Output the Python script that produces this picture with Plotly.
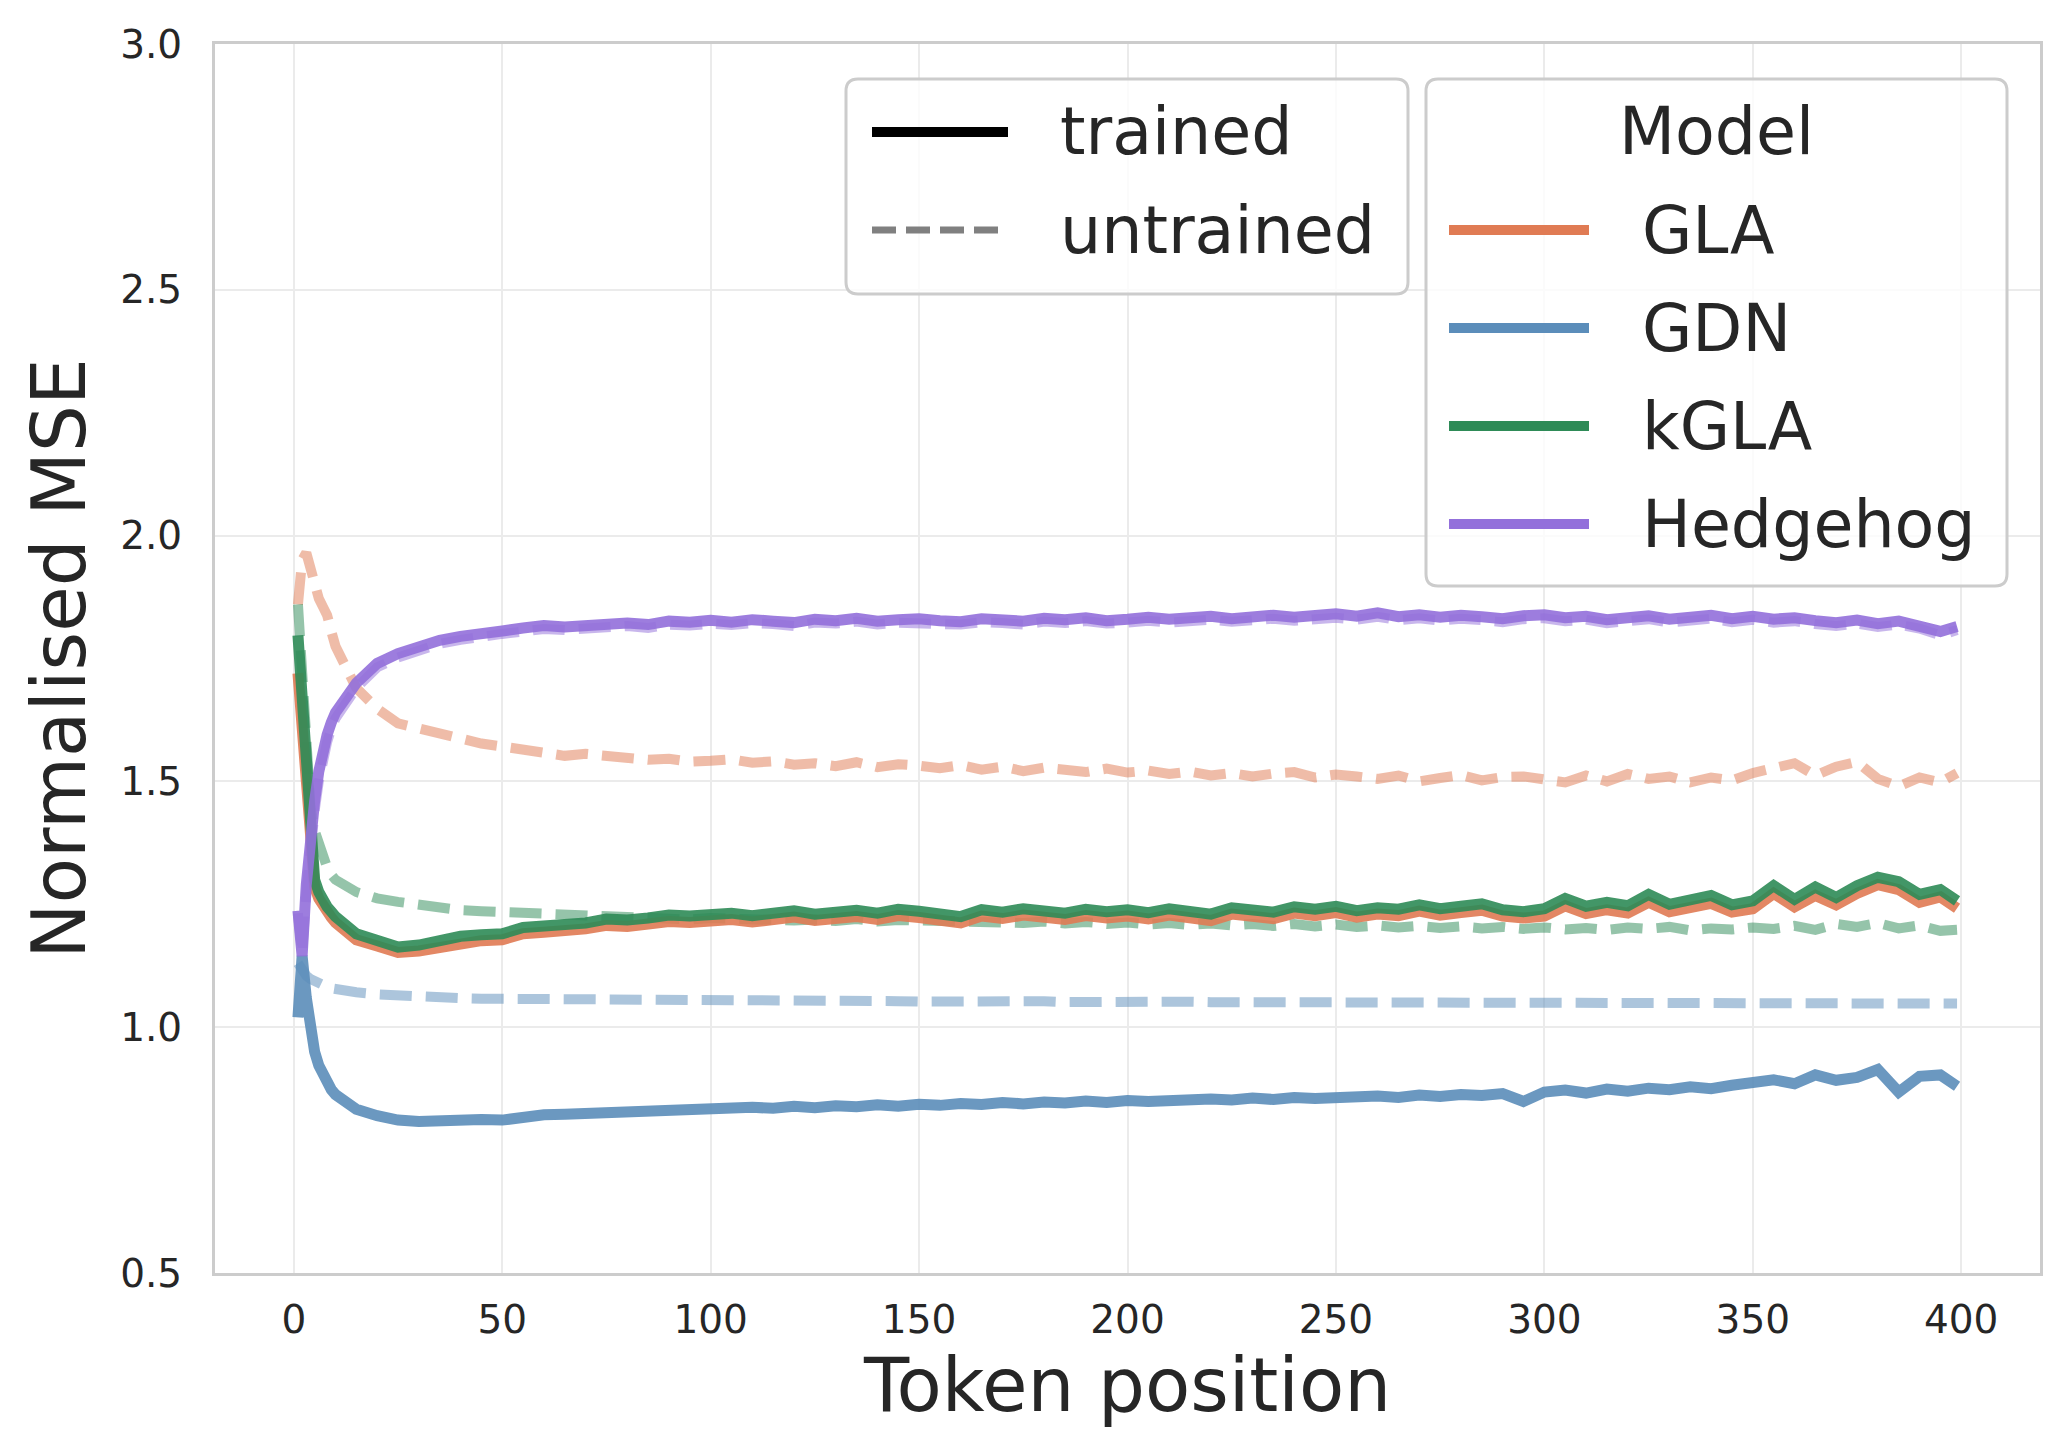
import plotly.graph_objects as go

# ---------------- data ----------------
token_pos = list(range(1, 11)) + list(range(15, 400, 5)) + [399]

models = ["GLA", "GDN", "kGLA", "Hedgehog"]
model_colors = ["#E07B54", "#5B8DBA", "#2E8B57", "#9370DB"]
style_labels = ["trained", "untrained"]
legend_title = "Model"
x_title = "Token position"
y_title = "Normalised MSE"
x_ticks = [0, 50, 100, 150, 200, 250, 300, 350, 400]
y_ticks = [0.5, 1.0, 1.5, 2.0, 2.5, 3.0]

gla_trained = [
    1.72, 1.60, 1.49, 1.39, 1.285, 1.262, 1.245, 1.233, 1.223, 1.213,
    1.178, 1.165, 1.152, 1.155, 1.163, 1.172, 1.176, 1.178,
    1.19, 1.193, 1.195, 1.2, 1.207, 1.205, 1.21, 1.215, 1.213, 1.216,
    1.219, 1.214, 1.221, 1.224, 1.217, 1.222, 1.225, 1.219, 1.227, 1.223,
    1.219, 1.212, 1.226, 1.221, 1.228, 1.223, 1.219, 1.227, 1.222, 1.226,
    1.22, 1.228, 1.224, 1.217, 1.23, 1.226, 1.221, 1.232, 1.227, 1.233,
    1.224, 1.23, 1.227, 1.236, 1.228, 1.233, 1.238, 1.226, 1.222, 1.226,
    1.247, 1.231, 1.239, 1.232, 1.254, 1.235, 1.242, 1.252, 1.234, 1.241,
    1.272, 1.245, 1.268, 1.249, 1.272, 1.29, 1.28, 1.254, 1.265,
    1.242,
]
gdn_trained = [
    1.02, 1.145, 1.06, 0.99, 0.95, 0.922, 0.902, 0.886, 0.873, 0.863,
    0.833, 0.82, 0.811, 0.808, 0.81, 0.813, 0.812, 0.811,
    0.818, 0.822, 0.823, 0.825, 0.824, 0.828, 0.829, 0.833, 0.831, 0.835,
    0.834, 0.837, 0.835, 0.839, 0.836, 0.84, 0.838, 0.842, 0.839, 0.843,
    0.841, 0.845, 0.843, 0.847, 0.844, 0.848, 0.846, 0.85, 0.847, 0.851,
    0.849, 0.852, 0.85, 0.854, 0.852, 0.856, 0.853, 0.857, 0.855, 0.858,
    0.856, 0.86, 0.857, 0.862, 0.859, 0.863, 0.861, 0.865, 0.849, 0.868,
    0.872, 0.866, 0.874, 0.87, 0.876, 0.873, 0.879, 0.875, 0.882, 0.887,
    0.893, 0.885, 0.903, 0.892, 0.898, 0.914, 0.868, 0.9, 0.903,
    0.88,
]
kgla_trained = [
    1.797, 1.67, 1.54, 1.41, 1.30, 1.275, 1.257, 1.245, 1.235, 1.225,
    1.19, 1.177, 1.163, 1.167, 1.176, 1.185, 1.188, 1.19,
    1.203, 1.205, 1.207, 1.212, 1.22, 1.218, 1.222, 1.228, 1.226, 1.229,
    1.232, 1.227, 1.234, 1.237, 1.23, 1.235, 1.238, 1.232, 1.24, 1.236,
    1.232, 1.225, 1.239, 1.234, 1.241, 1.236, 1.232, 1.24, 1.235, 1.239,
    1.233, 1.241, 1.237, 1.23, 1.243, 1.239, 1.234, 1.245, 1.24, 1.246,
    1.237, 1.243, 1.24, 1.249, 1.241, 1.246, 1.251, 1.239, 1.235, 1.241,
    1.262, 1.246, 1.254, 1.247, 1.27, 1.25, 1.257, 1.268, 1.249, 1.257,
    1.288, 1.26, 1.285, 1.264, 1.288, 1.305, 1.296, 1.27, 1.28,
    1.257,
]
hedgehog_trained = [
    1.237, 1.145, 1.29, 1.40, 1.46, 1.52, 1.565, 1.595, 1.62, 1.64,
    1.70, 1.74, 1.76, 1.775, 1.787, 1.795, 1.803, 1.806,
    1.812, 1.817, 1.814, 1.818, 1.82, 1.822, 1.819, 1.826, 1.824, 1.828,
    1.824, 1.829, 1.826, 1.823, 1.83, 1.827, 1.832, 1.826, 1.829, 1.831,
    1.827, 1.825, 1.831, 1.828, 1.826, 1.832, 1.829, 1.833, 1.827, 1.83,
    1.834, 1.83, 1.833, 1.836, 1.831, 1.835, 1.838, 1.834, 1.837, 1.841,
    1.836, 1.843, 1.835, 1.839, 1.834, 1.838, 1.835, 1.831, 1.837, 1.839,
    1.833, 1.836, 1.829, 1.834, 1.837, 1.83, 1.835, 1.838, 1.831, 1.836,
    1.83, 1.833, 1.827, 1.823, 1.828, 1.821, 1.826, 1.818, 1.805,
    1.815,
]

gla_untrained = [
    1.86, 1.95, 1.965, 1.93, 1.895, 1.872, 1.855, 1.838, 1.805, 1.775,
    1.69, 1.648, 1.618, 1.607, 1.6, 1.586, 1.577, 1.571,
    1.563, 1.558, 1.552, 1.556, 1.552, 1.548, 1.544, 1.546, 1.54, 1.542,
    1.545, 1.538, 1.541, 1.534, 1.537, 1.531, 1.539, 1.529, 1.535, 1.532,
    1.527, 1.533, 1.524, 1.53, 1.521, 1.528, 1.524, 1.519, 1.526, 1.518,
    1.522, 1.515, 1.52, 1.512, 1.517, 1.51, 1.516, 1.519, 1.508, 1.514,
    1.51, 1.505, 1.512, 1.5, 1.507, 1.513, 1.502, 1.509, 1.51, 1.505,
    1.498, 1.512, 1.5, 1.515, 1.505, 1.51, 1.498, 1.508, 1.502, 1.517,
    1.525, 1.537, 1.512, 1.53, 1.54, 1.505, 1.49, 1.508, 1.498,
    1.517,
]
gdn_untrained = [
    1.13, 1.115, 1.105, 1.098, 1.093, 1.089, 1.085, 1.082, 1.079, 1.077,
    1.071, 1.067, 1.064, 1.062, 1.06, 1.059, 1.058, 1.058,
    1.057, 1.057, 1.056, 1.056, 1.056, 1.055, 1.055, 1.055, 1.055, 1.054,
    1.055, 1.054, 1.054, 1.053, 1.054, 1.053, 1.053, 1.054, 1.053, 1.052,
    1.053, 1.052, 1.053, 1.052, 1.052, 1.053, 1.051, 1.052, 1.052, 1.051,
    1.052, 1.051, 1.052, 1.051, 1.051, 1.052, 1.05, 1.051, 1.051, 1.05,
    1.051, 1.05, 1.051, 1.05, 1.051, 1.049, 1.05, 1.051, 1.05, 1.049,
    1.05, 1.049, 1.05, 1.051, 1.049, 1.05, 1.048, 1.05, 1.049, 1.05,
    1.049, 1.05, 1.048, 1.049, 1.05, 1.048, 1.049, 1.047, 1.049,
    1.048,
]
kgla_untrained = [
    1.86, 1.70, 1.55, 1.45, 1.40, 1.37, 1.345, 1.325, 1.31, 1.30,
    1.275, 1.262, 1.255, 1.248, 1.244, 1.238, 1.236, 1.234,
    1.232, 1.229, 1.226, 1.224, 1.222, 1.223, 1.22, 1.221, 1.219, 1.222,
    1.22, 1.218, 1.221, 1.217, 1.219, 1.216, 1.22, 1.215, 1.218, 1.217,
    1.214, 1.217, 1.213, 1.216, 1.212, 1.215, 1.211, 1.214, 1.21, 1.213,
    1.209, 1.212, 1.208, 1.211, 1.207, 1.21, 1.206, 1.21, 1.205, 1.209,
    1.204, 1.207, 1.203, 1.206, 1.202, 1.205, 1.201, 1.204, 1.2, 1.203,
    1.199, 1.202, 1.198, 1.203, 1.2, 1.204, 1.197, 1.201, 1.199, 1.203,
    1.2, 1.206, 1.198, 1.21, 1.204, 1.212, 1.201, 1.207, 1.196,
    1.198,
]
hedgehog_untrained = [
    1.232, 1.15, 1.27, 1.37, 1.44, 1.50, 1.548, 1.58, 1.607, 1.628,
    1.69, 1.732, 1.752, 1.768, 1.78, 1.788, 1.796, 1.80,
    1.805, 1.81, 1.808, 1.811, 1.814, 1.816, 1.812, 1.819, 1.817, 1.821,
    1.818, 1.822, 1.82, 1.816, 1.823, 1.821, 1.825, 1.819, 1.823, 1.824,
    1.82, 1.819, 1.824, 1.822, 1.819, 1.825, 1.822, 1.826, 1.821, 1.823,
    1.827, 1.823, 1.826, 1.829, 1.825, 1.828, 1.831, 1.827, 1.83, 1.833,
    1.829, 1.835, 1.828, 1.832, 1.827, 1.831, 1.828, 1.824, 1.83, 1.832,
    1.826, 1.829, 1.822, 1.827, 1.83, 1.823, 1.828, 1.831, 1.824, 1.829,
    1.823, 1.826, 1.82, 1.816, 1.821, 1.814, 1.819, 1.811, 1.797,
    1.808,
]

trained = [gla_trained, gdn_trained, kgla_trained, hedgehog_trained]
untrained = [gla_untrained, gdn_untrained, kgla_untrained, hedgehog_untrained]
for s in trained + untrained:
    assert len(s) == len(token_pos), len(s)

# ---------------- figure ----------------
W, H = 2070, 1433
PL, PR, PT, PB = 215, 2040, 44, 1273
FONT = "DejaVu Sans"
TXT = "#262626"

fig = go.Figure()

for name, col, ys in zip(models, model_colors, untrained):
    fig.add_trace(go.Scatter(
        x=token_pos, y=ys, mode="lines", name=name + " untrained",
        line=dict(color=col, width=10, dash="32px,14px"),
        opacity=0.5, showlegend=False))

for name, col, ys in zip(models, model_colors, trained):
    fig.add_trace(go.Scatter(
        x=token_pos, y=ys, mode="lines", name=name + " trained",
        line=dict(color=col, width=11),
        opacity=0.9, showlegend=False))


def px(v):
    return (v - PL) / (PR - PL)


def py(v):
    return (PB - v) / (PB - PT)


def rrect(x0, y0, x1, y1, r):
    pts = [
        f"M {px(x0+r)} {py(y0)}", f"L {px(x1-r)} {py(y0)}",
        f"Q {px(x1)} {py(y0)} {px(x1)} {py(y0+r)}",
        f"L {px(x1)} {py(y1-r)}",
        f"Q {px(x1)} {py(y1)} {px(x1-r)} {py(y1)}",
        f"L {px(x0+r)} {py(y1)}",
        f"Q {px(x0)} {py(y1)} {px(x0)} {py(y1-r)}",
        f"L {px(x0)} {py(y0+r)}",
        f"Q {px(x0)} {py(y0)} {px(x0+r)} {py(y0)} Z",
    ]
    return " ".join(pts)


shapes = []
annotations = []
box_style = dict(type="path", xref="paper", yref="paper", layer="above",
                 fillcolor="rgba(255,255,255,0.8)",
                 line=dict(color="#cccccc", width=3))

# legend 1: line style
shapes.append(dict(path=rrect(846, 79, 1408, 294, 12), **box_style))
style_rows = [132, 230]
style_line = [dict(color="black", width=10), dict(color="#808080", width=7, dash="24px,10px")]
for lab, yy, ln in zip(style_labels, style_rows, style_line):
    shapes.append(dict(type="line", xref="paper", yref="paper", layer="above",
                       x0=px(872), x1=px(1008), y0=py(yy), y1=py(yy), line=ln))
    annotations.append(dict(text=lab, x=px(1058), y=py(yy), xref="paper", yref="paper",
                            xanchor="left", yanchor="middle", showarrow=False,
                            font=dict(family=FONT, size=65, color=TXT)))

# legend 2: models
shapes.append(dict(path=rrect(1426, 79, 2007, 586, 12), **box_style))
annotations.append(dict(text=legend_title, x=px(1716), y=py(132), xref="paper", yref="paper",
                        xanchor="center", yanchor="middle", showarrow=False,
                        font=dict(family=FONT, size=65, color=TXT)))
model_rows = [230, 328, 426, 524]
for lab, col, yy in zip(models, model_colors, model_rows):
    shapes.append(dict(type="line", xref="paper", yref="paper", layer="above",
                       x0=px(1449), x1=px(1589), y0=py(yy), y1=py(yy),
                       line=dict(color=col, width=10)))
    annotations.append(dict(text=lab, x=px(1640), y=py(yy), xref="paper", yref="paper",
                            xanchor="left", yanchor="middle", showarrow=False,
                            font=dict(family=FONT, size=65, color=TXT)))

axis_common = dict(
    showgrid=True, gridcolor="#ebebeb", gridwidth=2,
    showline=True, linecolor="#cccccc", linewidth=3, mirror=True,
    zeroline=False, ticks="", automargin=False,
    tickfont=dict(family=FONT, size=39, color=TXT),
)

fig.update_layout(
    width=W, height=H,
    margin=dict(l=PL, r=W - PR, t=PT, b=H - PB, pad=0),
    paper_bgcolor="white", plot_bgcolor="white",
    font=dict(family=FONT, color=TXT),
    showlegend=False,
    shapes=shapes, annotations=annotations,
    xaxis=dict(range=[-18.9, 418.9], tickvals=x_ticks, ticklabelstandoff=10,
               title=dict(text=x_title, font=dict(family=FONT, size=74, color=TXT), standoff=18),
               **axis_common),
    yaxis=dict(range=[0.5, 3.0], tickvals=y_ticks, tickformat=".1f", ticklabelstandoff=22,
               title=dict(text=y_title, font=dict(family=FONT, size=74, color=TXT), standoff=11),
               **axis_common),
)

fig.write_html("out.html")
